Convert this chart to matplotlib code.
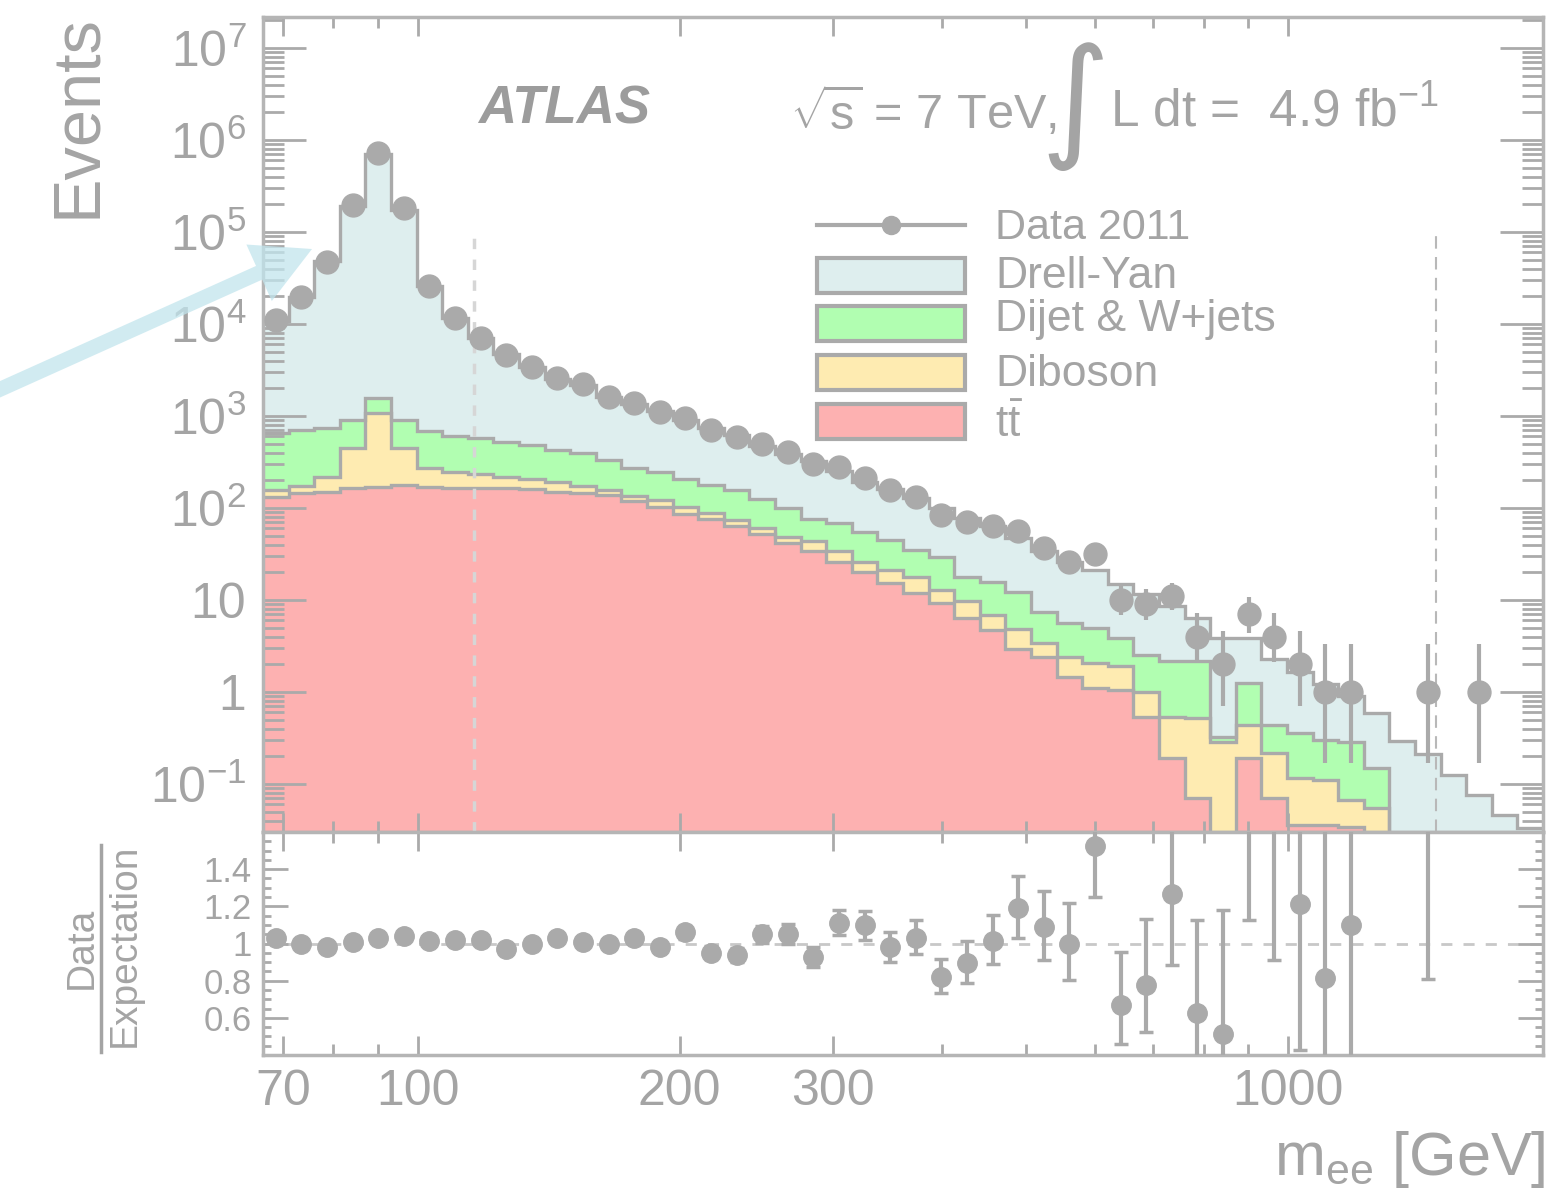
import numpy as np
import matplotlib
matplotlib.use("Agg")
import matplotlib.pyplot as plt
from matplotlib.patches import Rectangle, FancyArrow
from matplotlib.lines import Line2D
from matplotlib.ticker import FixedLocator, FixedFormatter, LogLocator, MultipleLocator, FuncFormatter, NullFormatter
from matplotlib.transforms import IdentityTransform

plt.rcParams['font.family'] = ['Liberation Sans', 'DejaVu Sans']
plt.rcParams['mathtext.fontset'] = 'custom'
plt.rcParams['mathtext.rm'] = 'Liberation Sans'
plt.rcParams['mathtext.it'] = 'Liberation Sans:italic'
plt.rcParams['mathtext.bf'] = 'Liberation Sans:bold'
plt.rcParams['mathtext.default'] = 'regular'

W, H = 1552, 1198
GRAY = '#aaaaaa'
TXT = '#a4a4a4'
C_DY = '#deeeee'
C_JET = '#b1feb1'
C_VV = '#feebb1'
C_TT = '#fdb1b1'

# 50 log bins in m_ee [GeV]
m_lo, m_hi = 66.4, 1964.0
edges = np.geomspace(m_lo, m_hi, 51)

# observed events per bin
data = [11000, 19600, 47000, 195000, 720000, 180000, 26000, 11700, 7100, 4600,
        3400, 2600, 2200, 1600, 1400, 1100, 950, 700, 590, 500,
        410, 300, 280, 213, 158, 132, 83, 70, 64, 56,
        37, 26, 32, 10, 9, 11, 4, 2, 7, 4,
        2, 1, 1, 0, 0, 1, 0, 1, 0, 0]
data_dn = [105, 140, 217, 442, 849, 424, 161, 108, 84, 68,
           58, 51, 47, 40, 37, 33, 31, 26, 24, 22,
           20, 17, 17, 15, 13, 11.5, 9.1, 8.4, 8.0, 7.5,
           6.1, 5.1, 5.7, 3.1, 2.9, 3.3, 1.9, 1.3, 2.6, 1.9,
           1.3, 0.83, 0.83, 0, 0, 0.83, 0, 0.83, 0, 0]
data_up = [105, 140, 217, 442, 849, 424, 161, 108, 84, 68,
           58, 51, 47, 40, 37, 33, 31, 26, 24, 22,
           20, 17, 17, 15, 13, 12, 9.6, 8.9, 8.5, 8.0,
           6.6, 5.6, 6.2, 4.3, 4.1, 4.4, 3.2, 2.6, 3.8, 3.2,
           2.6, 2.3, 2.3, 0, 0, 2.3, 0, 2.3, 0, 0]

# stacked expectation, cumulative tops (ttbar < +diboson < +dijet < +Drell-Yan)
dy_top = [10700, 19600, 48000, 193000, 700000, 173000, 25700, 11500, 6960, 4740,
          3400, 2520, 2180, 1600, 1360, 1120, 896, 737, 628, 476,
          390, 323, 252, 194, 161, 128, 101, 78, 63, 47,
          34, 26, 21, 15, 11.6, 8.7, 6.4, 3.9, 3.9, 2.3,
          1.65, 1.23, 0.91, 0.59, 0.29, 0.21, 0.126, 0.076, 0.046, 0.033]
dijet_top = [653, 700, 740, 910, 1580, 910, 680, 605, 575, 520,
             485, 425, 395, 332, 275, 245, 206, 178, 157, 124,
             100, 75, 68, 55, 45, 35, 29, 17.8, 15.7, 12.2,
             7.4, 5.6, 5.0, 3.86, 2.5, 2.2, 2.2, 0.325, 1.25, 0.44,
             0.36, 0.30, 0.286, 0.149, 0, 0, 0, 0, 0, 0]
diboson_top = [157, 173, 218, 447, 1070, 447, 270, 245, 234, 218,
               207, 191, 173, 157, 136, 122, 103, 88, 74, 61,
               48, 44, 34, 26, 21, 17.8, 12.9, 9.8, 6.9, 4.8,
               3.4, 2.4, 2.07, 1.9, 1.0, 0.53, 0.52, 0.286, 0.44, 0.22,
               0.117, 0.11, 0.067, 0.055, 0, 0, 0, 0, 0, 0]
ttbar_top = [132, 145, 150, 166, 170, 176, 170, 166, 165, 164,
             160, 150, 145, 138, 118, 103, 86, 76, 63, 52,
             42, 34, 26, 20, 15.3, 11.9, 9.3, 6.3, 4.7, 2.9,
             2.4, 1.46, 1.1, 1.05, 0.535, 0.19, 0.07, 0, 0.19, 0.07,
             0.036, 0.036, 0.034, 0, 0, 0, 0, 0, 0, 0]

window_lines = [116, 1480]

x_major = [70, 100, 200, 300, 1000]
x_minor = [80, 90, 400, 500, 600, 700, 800, 900]

fig = plt.figure(figsize=(W / 100, H / 100), dpi=100)

def fx(x):
    return x / W

def fy(y):
    return 1 - y / H

ax = fig.add_axes([fx(263), fy(832), 1280 / W, 815 / H])
rax = fig.add_axes([fx(263), fy(1055), 1280 / W, 223 / H])

floor = 1e-3
for top, col in [(dy_top, C_DY), (dijet_top, C_JET), (diboson_top, C_VV), (ttbar_top, C_TT)]:
    vals = np.clip(np.asarray(top, float), floor, None)
    ax.stairs(vals, edges, baseline=floor, fill=True, color=col, lw=0, zorder=1)
    ax.stairs(vals, edges, baseline=None, color=GRAY, lw=2.4, zorder=1.5)

ax.vlines(window_lines[0], 0.0301, 1e5, colors='#d6d6d6', linestyles=(0, (3, 3)), lw=2.5, zorder=3)
ax.vlines(window_lines[1], 0.0301, 1e5, colors='#b8b8b8', linestyles=(0, (6, 4)), lw=1.5, zorder=3)

centers = np.sqrt(edges[:-1] * edges[1:])
d = np.asarray(data, float)
dn = np.asarray(data_dn, float)
up = np.asarray(data_up, float)
has = d > 0
ax.errorbar(centers[has], d[has], yerr=[dn[has], up[has]], fmt='o', ms=16.5, color=GRAY,
            mec=GRAY, elinewidth=3, capsize=0, zorder=5)

tot = np.asarray(dy_top, float)
ratio = d / tot
rax.axhline(1, color='#c8c8c8', ls=(0, (4, 4)), lw=2, zorder=1)
rax.errorbar(centers[has], ratio[has], yerr=[dn[has] / tot[has], up[has] / tot[has]], fmt='o',
             ms=14, color=GRAY, mec=GRAY, elinewidth=3, capsize=5, capthick=2.5, zorder=5)

# axes styling
for a in (ax, rax):
    a.set_xscale('log')
    a.set_xlim(m_lo, m_hi)
    a.xaxis.set_major_locator(FixedLocator(x_major))
    a.xaxis.set_minor_locator(FixedLocator(x_minor))
    a.xaxis.set_minor_formatter(NullFormatter())
    for s in a.spines.values():
        s.set_color('#b5b5b5')
        s.set_linewidth(2.5)
    a.tick_params(which='both', direction='in', top=True, right=True, color=GRAY, width=2,
                  labelcolor=TXT)
    a.tick_params(axis='x', which='major', length=14)
    a.tick_params(axis='x', which='minor', length=8)

ax.tick_params(labelbottom=False)
ax.set_yscale('log')
ax.set_ylim(0.0301, 2.17e7)
ax.yaxis.set_major_locator(LogLocator(base=10, numticks=20))
ax.yaxis.set_minor_locator(LogLocator(base=10, subs=np.arange(2, 10), numticks=20))
ax.yaxis.set_minor_formatter(NullFormatter())

def ylab(v, pos):
    e = int(round(np.log10(v)))
    if e == 0:
        return '1'
    if e == 1:
        return '10'
    return '10$^{%d}$' % e

ax.yaxis.set_major_formatter(FuncFormatter(ylab))
ax.tick_params(axis='y', which='major', length=31, labelsize=36, pad=12)
ax.tick_params(axis='y', which='minor', length=15)

rax.set_ylim(0.4, 1.6)
rax.yaxis.set_major_locator(FixedLocator([0.6, 0.8, 1.0, 1.2, 1.4]))
rax.yaxis.set_major_formatter(FixedFormatter(['0.6', '0.8', '1', '1.2', '1.4']))
rax.yaxis.set_minor_locator(MultipleLocator(0.05))
rax.tick_params(axis='y', which='major', length=18, labelsize=25, pad=8)
rax.tick_params(axis='y', which='minor', length=6)
rax.xaxis.set_major_formatter(FixedFormatter([str(v) for v in x_major]))
rax.tick_params(axis='x', which='major', labelsize=36, pad=10)

# axis titles
fig.text(fx(78), fy(14), 'Events', rotation=90, ha='center', va='top', fontsize=48, color=TXT)
fig.text(fx(1546), fy(1160), r'm$_{\mathrm{ee}}$ [GeV]', ha='right', va='center', fontsize=44, color=TXT)
fig.text(fx(82), fy(948), 'Data', rotation=90, ha='center', va='center', fontsize=28, color=TXT)
fig.add_artist(Line2D([fx(101), fx(101)], [fy(845), fy(1052)], transform=fig.transFigure, color=TXT, lw=2.5))
fig.text(fx(125), fy(945), 'Expectation', rotation=90, ha='center', va='center', fontsize=28, color=TXT)

# labels in the plot
fig.text(fx(478), fy(110), 'ATLAS', fontsize=38, weight='bold', style='italic', va='center', color='#9c9c9c')
fig.text(fx(790), fy(112), r'$\sqrt{s}$ = 7 TeV,', fontsize=35, va='center', color=TXT)
fig.text(fx(1075), fy(106), '\u222b', fontsize=96, ha='center', va='center', color=TXT,
         family=['DejaVu Sans'])
fig.text(fx(1110), fy(112), r'L dt =  4.9 fb$^{-1}$', fontsize=37, va='center', color=TXT)

# legend
fig.add_artist(Line2D([fx(817), fx(965)], [fy(225), fy(225)], transform=fig.transFigure, color=GRAY, lw=3))
fig.add_artist(Line2D([fx(891)], [fy(225)], transform=fig.transFigure, color=GRAY, marker='o', ms=13))
fig.text(fx(995), fy(228), 'Data 2011', fontsize=31, va='center', color=TXT)
leg_rows = [(C_DY, 'Drell-Yan', 258, 276), (C_JET, 'Dijet & W+jets', 306, 320),
            (C_VV, 'Diboson', 355, 374), (C_TT, r'$\mathrm{t\bar{t}}$', 404, 425)]
for col, lab, ytop, ytxt in leg_rows:
    fig.add_artist(Rectangle((fx(817), fy(ytop + 35)), 148 / W, 35 / H, transform=fig.transFigure,
                             facecolor=col, edgecolor=GRAY, lw=3))
    fig.text(fx(995), fy(ytxt), lab, fontsize=32, va='center', color=TXT)

# light blue pointer arrow
arr = FancyArrow(-6, H - 392, 318, 143, width=15, head_width=62, head_length=58,
                 length_includes_head=True, color='#c2e5ed', alpha=0.75, lw=0,
                 transform=IdentityTransform(), zorder=10)
fig.add_artist(arr)

fig.savefig('out.png', dpi=100)
